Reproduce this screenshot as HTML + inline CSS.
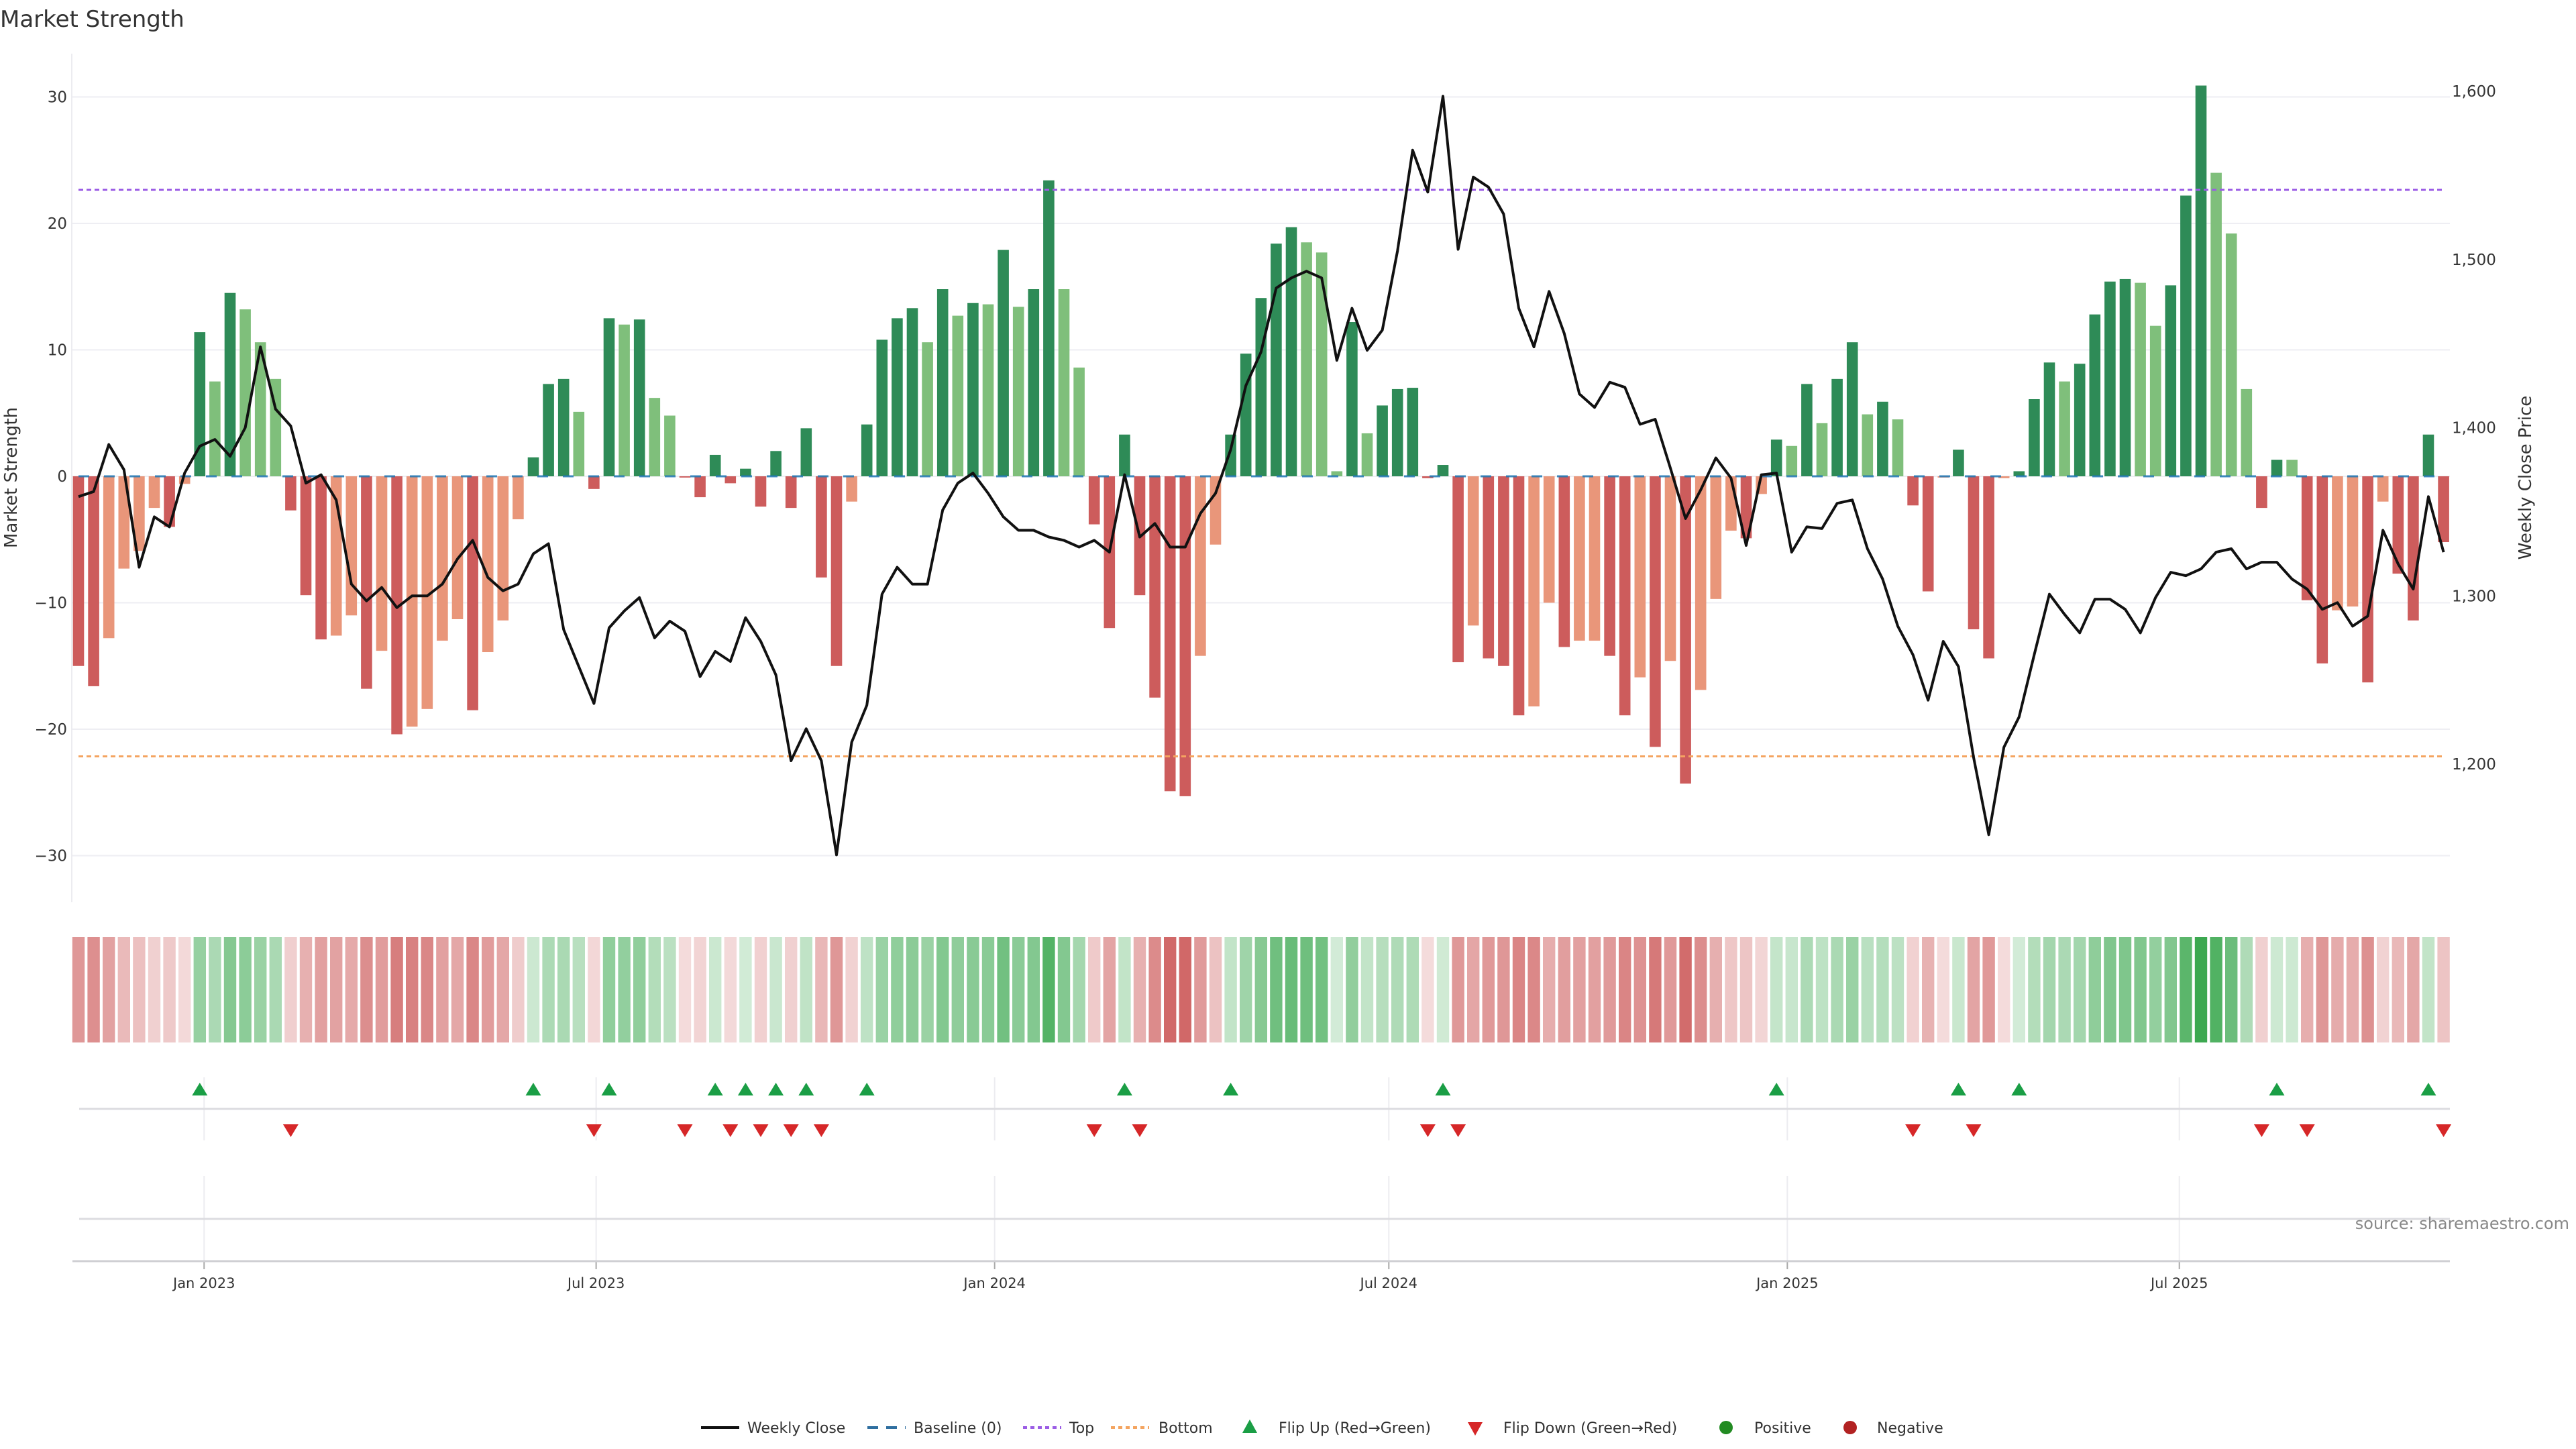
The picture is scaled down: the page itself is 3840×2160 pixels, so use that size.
<!DOCTYPE html>
<html><head><meta charset="utf-8"><title>Market Strength</title>
<style>
html,body{margin:0;padding:0;background:#fff;}
svg{display:block;font-family:"DejaVu Sans","Liberation Sans",sans-serif;}
</style></head>
<body>
<svg id="chart" width="3840" height="2160" viewBox="0 0 3840 2160" xmlns="http://www.w3.org/2000/svg">
<rect width="3840" height="2160" fill="#fff"/>
<text x="0" y="40" font-size="34" fill="#333">Market Strength</text>
<g id="grid"></g>
<g id="bars"></g>
<g id="refs"></g>
<g id="line"></g>
<g id="axes"></g>
<g id="heat"></g>
<g id="marks"></g>
<text x="17" y="712" font-size="26" fill="#333" text-anchor="middle" transform="rotate(-90 17 712)" dominant-baseline="central">Market Strength</text>
<text x="3765" y="712" font-size="26" fill="#333" text-anchor="middle" transform="rotate(-90 3765 712)" dominant-baseline="central">Weekly Close Price</text>
<text x="3830" y="1832" font-size="24" fill="#888" text-anchor="end">source: sharemaestro.com</text>
<g id="legend">
  <g><line x1="1045" y1="2128" x2="1102" y2="2128" stroke="#111" stroke-width="4"/><text x="1114" y="2136" font-size="22" fill="#333">Weekly Close</text></g>
  <g><line x1="1293" y1="2128" x2="1350" y2="2128" stroke="#2f6fa0" stroke-width="4" stroke-dasharray="16 12"/><text x="1362" y="2136" font-size="22" fill="#333">Baseline (0)</text></g>
  <g><line x1="1525" y1="2128" x2="1582" y2="2128" stroke="#9b5de5" stroke-width="4" stroke-dasharray="6 5"/><text x="1594" y="2136" font-size="22" fill="#333">Top</text></g>
  <g><line x1="1656" y1="2128" x2="1713" y2="2128" stroke="#f4a460" stroke-width="4" stroke-dasharray="6 5"/><text x="1727" y="2136" font-size="22" fill="#333">Bottom</text></g>
  <g><polygon points="1863,2116 1874,2136 1852,2136" fill="#1a9e45"/><text x="1906" y="2136" font-size="22" fill="#333">Flip Up (Red→Green)</text></g>
  <g><polygon points="2188,2120 2210,2120 2199,2140" fill="#d62728"/><text x="2241" y="2136" font-size="22" fill="#333">Flip Down (Green→Red)</text></g>
  <g><circle cx="2573" cy="2128" r="10" fill="#228b22"/><text x="2615" y="2136" font-size="22" fill="#333">Positive</text></g>
  <g><circle cx="2758" cy="2128" r="10" fill="#b22222"/><text x="2798" y="2136" font-size="22" fill="#333">Negative</text></g>
</g>
</svg>
<script>
const strength = [-15.0,-16.6,-12.8,-7.3,-5.9,-2.5,-4.0,-0.6,11.4,7.5,14.5,13.2,10.6,7.7,-2.7,-9.4,-12.9,-12.6,-11.0,-16.8,-13.8,-20.4,-19.8,-18.4,-13.0,-11.3,-18.5,-13.9,-11.4,-3.4,1.5,7.3,7.7,5.1,-1.0,12.5,12.0,12.4,6.2,4.8,-0.1,
-1.65,1.7,-0.55,0.6,-2.4,2.0,-2.5,3.8,-8.0,-15.0,-2.0,4.1,10.8,12.5,13.3,10.6,14.8,12.7,13.7,13.6,17.9,13.4,14.8,23.4,14.8,8.6,-3.8,-12.0,3.3,-9.4,-17.5,-24.9,-25.3,-14.2,-5.4,3.3,9.7,14.1,18.4,19.7,
18.5,17.7,0.4,12.2,3.4,5.6,6.9,7.0,-0.15,0.9,-14.7,-11.8,-14.4,-15.0,-18.9,-18.2,-10.0,-13.5,-13.0,-13.0,-14.2,-18.9,-15.9,-21.4,-14.6,-24.3,-16.9,-9.7,-4.3,-4.9,-1.4,2.9,2.4,7.3,4.2,7.7,10.6,4.9,5.9,4.5,-2.3,
-9.1,-0.1,2.1,-12.1,-14.4,-0.15,0.4,6.1,9.0,7.5,8.9,12.8,15.4,15.6,15.3,11.9,15.1,22.2,30.9,24.0,19.2,6.9,-2.5,1.3,1.3,-9.8,-14.8,-10.6,-10.3,-16.3,-2.0,-7.7,-11.4,3.3,-5.2];
const closePrice = [1359,1362,1390,1375,1317,1347,1341,1373,1389,1393,1383,1400,1448,1411,1401,1367,1372,1357,1307,1297,1305,1293,1300,1300,1307,1322,1333,1311,1303,1307,1325,1331,1280,1258,1236,1281,1291,1299,1275,1285,1279,
1252,1267,1261,1287,1273,1253,1202,1221,1202,1146,1213,1235,1301,1317,1307,1307,1351,1367,1373,1361,1347,1339,1339,1335,1333,1329,1333,1326,1372,1335,1343,1329,1329,1349,1361,1387,1425,1445,1483,1489,
1493,1489,1440,1471,1446,1458,1505,1565,1540,1597,1506,1549,1543,1527,1471,1448,1481,1456,1420,1412,1427,1424,1402,1405,1376,1346,1363,1382,1370,1330,1372,1373,1326,1341,1340,1355,1357,1328,1310,1282,1265,
1238,1273,1258,1204,1158,1210,1228,1265,1301,1289,1278,1298,1298,1292,1278,1299,1314,1312,1316,1326,1328,1316,1320,1320,1310,1304,1292,1296,1282,1288,1339,1319,1304,1359,1326];
const leftTicks = [-30,-20,-10,0,10,20,30];
const rightTicks = [1200,1300,1400,1500,1600];
const rightTickLabels = ["1,200","1,300","1,400","1,500","1,600"];
const xTickDates = ["2023-01-01","2023-07-01","2024-01-01","2024-07-01","2025-01-01","2025-07-01"];
const xTickLabels = ["Jan 2023","Jul 2023","Jan 2024","Jul 2024","Jan 2025","Jul 2025"];
const topLevel = [22.65];
const bottomLevel = [-22.15];
const startDate = "2022-11-04";

const NS = "http://www.w3.org/2000/svg";
const X0 = 117, DX = 22.6, PLOT_L = 108, PLOT_R = 3652;
const x = i => X0 + i * DX;
const xDate = d => X0 + ((Date.parse(d) - Date.parse(startDate)) / 86400000) / 7 * DX;
const yL = v => 710 - v * 18.85;
const yR = p => 136 + (1600 - p) * 2.5075;
function mk(tag, attrs, parent) { const e = document.createElementNS(NS, tag); for (const k in attrs) e.setAttribute(k, attrs[k]); parent.appendChild(e); return e; }
const G = id => document.getElementById(id);

// grid
leftTicks.forEach(t => {
  const l = mk('line', {x1: PLOT_L, x2: PLOT_R, y1: yL(t), y2: yL(t), stroke: '#eeeef3', 'stroke-width': 2}, G('grid'));
  
  
  const tx = mk('text', {x: 100, y: yL(t) + 8, 'font-size': 23, fill: '#333', 'text-anchor': 'end'}, G('axes'));
  tx.textContent = t === 0 ? '0' : (t < 0 ? '\u2212' + Math.abs(t) : String(t));
  
  
});
rightTicks.forEach((p, k) => {
  const tx = mk('text', {x: 3655, y: yR(p) + 8, 'font-size': 23, fill: '#333'}, G('axes'));
  tx.textContent = rightTickLabels[k];
  
  
});
const spine = mk('line', {x1: 107, x2: 107, y1: 80, y2: 1345, stroke: '#ececf0', 'stroke-width': 2}, G('axes'));



// bars
strength.forEach((v, i) => {
  const prev = i > 0 ? strength[i - 1] : 0;
  const stronger = (Math.sign(v) !== Math.sign(prev)) || Math.abs(v) > Math.abs(prev);
  const col = v >= 0 ? (stronger ? '#2e8b57' : '#7fbf7b') : (stronger ? '#cd5c5c' : '#e9967a');
  const y0 = yL(0), y1 = yL(v);
  const r = mk('rect', {x: x(i) - 8.3, y: Math.min(y0, y1), width: 16.6, height: Math.max(1.5, Math.abs(y1 - y0)), fill: col}, G('bars'));
  
  
});

// reference lines
const base = mk('line', {x1: X0, x2: x(strength.length - 1), y1: yL(0), y2: yL(0), stroke: '#1f77b4', 'stroke-width': 3, 'stroke-dasharray': '16 22', opacity: 0.85}, G('refs'));


const topL = mk('line', {x1: X0, x2: x(strength.length - 1), y1: yL(topLevel[0]), y2: yL(topLevel[0]), stroke: '#9b5de5', 'stroke-width': 3, 'stroke-dasharray': '7 5'}, G('refs'));


const botL = mk('line', {x1: X0, x2: x(strength.length - 1), y1: yL(bottomLevel[0]), y2: yL(bottomLevel[0]), stroke: '#f4a460', 'stroke-width': 3, 'stroke-dasharray': '7 5'}, G('refs'));



// close line
const pts = closePrice.map((p, i) => x(i).toFixed(1) + ',' + yR(p).toFixed(1)).join(' ');
const pl = mk('polyline', {points: pts, fill: 'none', stroke: '#111', 'stroke-width': 4, 'stroke-linejoin': 'round'}, G('line'));



// heat strip
strength.forEach((v, i) => {
  const a = Math.min(1, 0.22 + 0.7 * Math.abs(v) / 25);
  const col = v >= 0 ? `rgba(60,168,80,${a.toFixed(3)})` : `rgba(205,92,92,${a.toFixed(3)})`;
  const r = mk('rect', {x: x(i) - 9.2, y: 1397, width: 18.4, height: 157, fill: col}, G('heat'));
  
  
});

// markers panel + lower panel + x axis
xTickDates.forEach((d, k) => {
  const xx = xDate(d);
  const g1 = mk('line', {x1: xx, x2: xx, y1: 1606, y2: 1700, stroke: '#ececf0', 'stroke-width': 2}, G('axes'));
  
  
  const g2 = mk('line', {x1: xx, x2: xx, y1: 1753, y2: 1880, stroke: '#ececf0', 'stroke-width': 2}, G('axes'));
  
  
  const tk = mk('line', {x1: xx, x2: xx, y1: 1880, y2: 1892, stroke: '#aaa', 'stroke-width': 2}, G('axes'));
  
  
  const tx = mk('text', {x: xx, y: 1920, 'font-size': 21, fill: '#333', 'text-anchor': 'middle'}, G('axes'));
  tx.textContent = xTickLabels[k];
  
  
});
const sep = mk('line', {x1: 118, x2: PLOT_R, y1: 1653, y2: 1653, stroke: '#dcdce0', 'stroke-width': 3}, G('axes'));


const sep2 = mk('line', {x1: 118, x2: PLOT_R, y1: 1817, y2: 1817, stroke: '#dcdce0', 'stroke-width': 3}, G('axes'));


const xa = mk('line', {x1: 108, x2: PLOT_R, y1: 1880, y2: 1880, stroke: '#cfcfd3', 'stroke-width': 3}, G('axes'));



strength.forEach((v, i) => {
  if (i === 0) return;
  const p = strength[i - 1];
  const xx = x(i);
  if (p <= 0 && v > 0) {
    const t = mk('polygon', {points: `${xx},1614 ${xx + 11.5},1633 ${xx - 11.5},1633`, fill: '#1a9e45'}, G('marks'));
    
    
  } else if (p > 0 && v <= 0) {
    const t = mk('polygon', {points: `${xx - 11.5},1676 ${xx + 11.5},1676 ${xx},1695`, fill: '#d62728'}, G('marks'));
    
    
  }
});
</script>
</body></html>
